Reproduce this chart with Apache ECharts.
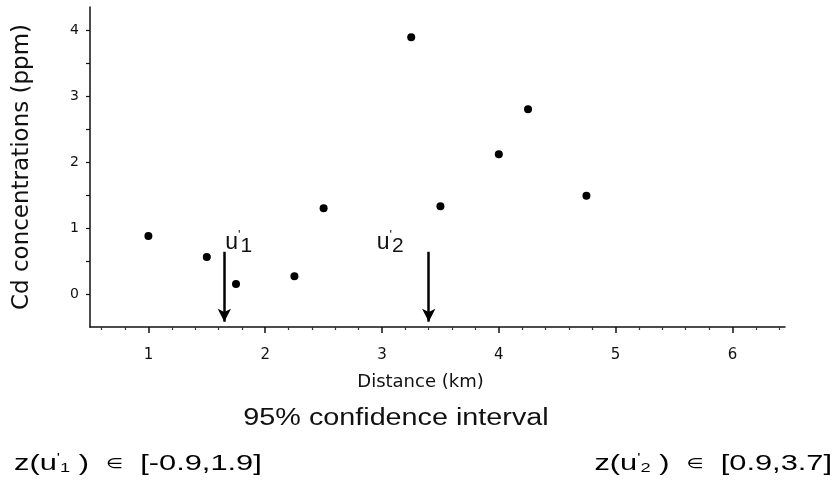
<!DOCTYPE html>
<html>
<head>
<meta charset="utf-8">
<style>
  html, body { margin: 0; padding: 0; background: #fff; }
  #chart { width: 837px; height: 481px; }
</style>
<script src="https://cdn.jsdelivr.net/npm/echarts@6/dist/echarts.min.js"></script>
</head>
<body>
<div id="chart"></div>
<script>
// Cd concentration measured along a transect
const distance = [1.0, 1.5, 1.75, 2.25, 2.5, 3.25, 3.5, 4.0, 4.25, 4.75];
const cd = [0.88, 0.56, 0.15, 0.27, 1.3, 3.89, 1.33, 2.12, 2.8, 1.49];

// axis ticks
const xTicks = [1, 2, 3, 4, 5, 6];
const xMinorTicks = [0.6, 0.8, 1.2, 1.4, 1.6, 1.8, 2.2, 2.4, 2.6, 2.8, 3.2, 3.4, 3.6, 3.8,
                     4.2, 4.4, 4.6, 4.8, 5.2, 5.4, 5.6, 5.8, 6.2, 6.4];
const yTicks = [0, 1, 2, 3, 4];
const yMinorTicks = [0, 0.5, 1, 1.5, 2, 2.5, 3, 3.5, 4];

// unsampled locations u'1, u'2 and their 95% confidence intervals
const targetX = [1.65, 3.4];
const targetNames = ['1', '2'];
const arrowTop = 0.64;
const arrowTip = -0.42;
const ciLow = [-0.9, 0.9];
const ciHigh = [1.9, 3.7];

const SANS = '"DejaVu Sans", sans-serif';
const HELV = '"Liberation Sans", Arial, sans-serif';
const INK = '#111';

const chart = echarts.init(document.getElementById('chart'), null, { renderer: 'canvas' });

const primeRich = {
  u: { fontFamily: HELV, fontSize: 23, color: INK },
  p: { fontFamily: HELV, fontSize: 13, color: INK, verticalAlign: 'top', padding: [0, 0, 12, 0] },
  s: { fontFamily: HELV, fontSize: 21, color: INK, verticalAlign: 'bottom', padding: [6, 0, 0, 0] }
};

const formulaRich = {
  n: { fontFamily: HELV, fontSize: 22, color: INK },
  e: { fontFamily: SANS, fontSize: 14, color: INK },
  p: { fontFamily: HELV, fontSize: 12, color: INK, verticalAlign: 'top', padding: [0, 0, 9, 0] },
  s: { fontFamily: HELV, fontSize: 13, color: INK, verticalAlign: 'bottom', padding: [7, 0, 0, 0] }
};

function formula(i) {
  return '{n|z(u}{p|\'}{s|' + targetNames[i] + '}{n| )  }{e|\u2208}{n|  [' +
    ciLow[i].toFixed(1) + ',' + ciHigh[i].toFixed(1) + ']}';
}

const option = {
  animation: false,
  backgroundColor: '#fff',
  grid: { left: 90, right: 52, top: 7, bottom: 154, containLabel: false },
  xAxis: [
    {
      type: 'value',
      min: 0.5,
      max: 6.45,
      position: 'bottom',
      name: 'Distance (km)',
      nameLocation: 'middle',
      nameGap: 46,
      nameTextStyle: { fontFamily: SANS, fontSize: 18, color: INK, padding: [0, 34, 0, 0] },
      axisLine: { show: true, onZero: false, lineStyle: { color: INK, width: 1.5 } },
      axisTick: { show: true, customValues: xTicks, length: 6, lineStyle: { color: INK, width: 1.5 } },
      axisLabel: {
        customValues: xTicks,
        margin: 21,
        fontFamily: SANS,
        fontSize: 15,
        color: INK,
        formatter: v => String(v)
      },
      splitLine: { show: false }
    },
    {
      type: 'value',
      min: 0.5,
      max: 6.45,
      position: 'bottom',
      axisLine: { show: false, onZero: false },
      axisTick: { show: true, customValues: xMinorTicks, length: 3, lineStyle: { color: '#333', width: 1.2 } },
      axisLabel: { show: false },
      splitLine: { show: false }
    }
  ],
  yAxis: {
    type: 'value',
    min: -0.5,
    max: 4.35,
    name: 'Cd concentrations (ppm)',
    nameLocation: 'middle',
    nameRotate: 90,
    nameGap: 56,
    nameTextStyle: { fontFamily: SANS, fontSize: 23, color: INK },
    axisLine: { show: true, onZero: false, lineStyle: { color: INK, width: 1.5 } },
    axisTick: { show: true, customValues: yMinorTicks, length: 4, lineStyle: { color: INK, width: 1.2 } },
    axisLabel: {
      customValues: yTicks,
      margin: 11,
      fontFamily: SANS,
      fontSize: 14,
      color: INK,
      formatter: v => String(v)
    },
    splitLine: { show: false }
  },
  series: [
    {
      name: 'Cd',
      type: 'scatter',
      xAxisIndex: 0,
      data: distance.map((d, i) => [d, cd[i]]),
      symbol: 'circle',
      symbolSize: 8,
      itemStyle: { color: '#000', opacity: 1 },
      z: 5
    },
    {
      name: 'targets',
      type: 'line',
      xAxisIndex: 0,
      data: [],
      markLine: {
        silent: true,
        symbol: ['none', 'arrow'],
        symbolSize: [10, 13],
        lineStyle: { color: '#000', width: 2.5, type: 'solid', opacity: 1 },
        label: { show: false },
        data: targetX.map(x => [{ coord: [x, arrowTop] }, { coord: [x, arrowTip] }])
      }
    },
    {
      name: 'target labels',
      type: 'scatter',
      xAxisIndex: 0,
      symbolSize: 0,
      silent: true,
      itemStyle: { color: '#000', opacity: 1 },
      data: targetX.map((x, i) => ({
        value: [x, arrowTop],
        label: {
          show: true,
          position: i === 0 ? 'right' : 'left',
          offset: i === 0 ? [-4, -9] : [-20, -9],
          color: INK,
          opacity: 1,
          formatter: '{u|u}{p|\'}{s|' + targetNames[i] + '}',
          rich: primeRich
        }
      }))
    }
  ],
  graphic: [
    {
      type: 'text',
      x: 396,
      y: 407,
      scaleX: 1.25,
      style: { text: '95% confidence interval', fontFamily: HELV, fontSize: 23, fill: INK, align: 'center' }
    },
    {
      type: 'text',
      x: 14,
      y: 453,
      scaleX: 1.4,
      style: { text: formula(0), rich: formulaRich, align: 'left' }
    },
    {
      type: 'text',
      x: 832,
      y: 453,
      scaleX: 1.4,
      style: { text: formula(1), rich: formulaRich, align: 'right' }
    }
  ]
};

chart.setOption(option);
</script>
</body>
</html>
